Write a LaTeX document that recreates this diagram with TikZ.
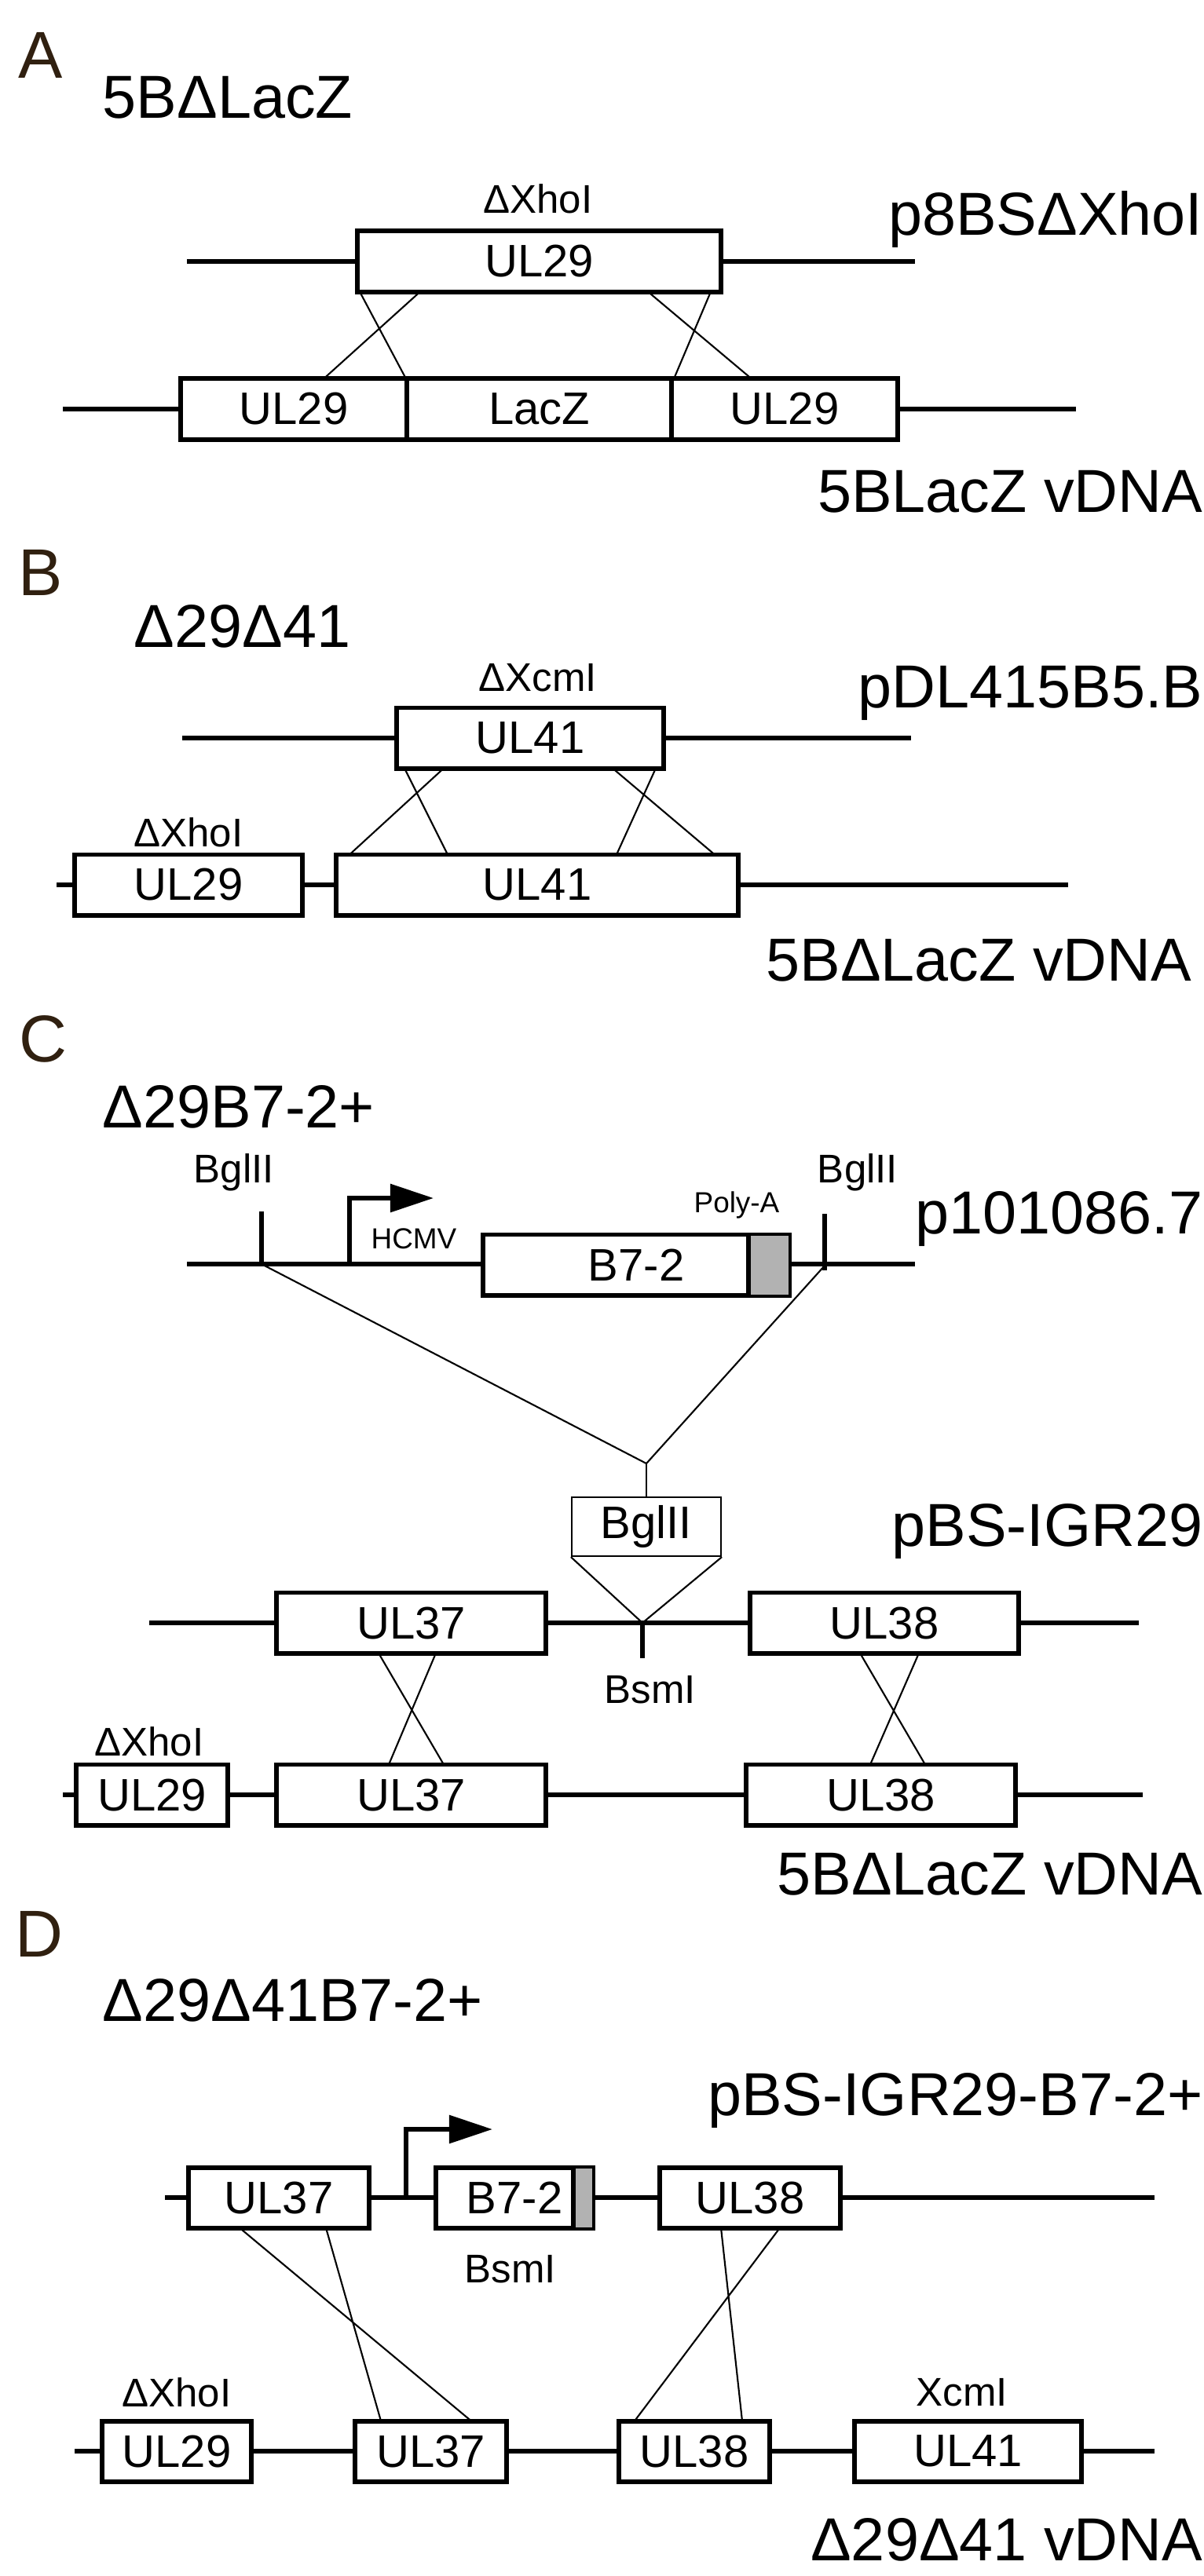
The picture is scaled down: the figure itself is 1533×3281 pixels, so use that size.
\documentclass[tikz,border=0pt]{standalone}
\usepackage{fontspec}
\setmainfont{Liberation Sans}
\usetikzlibrary{positioning,calc,arrows.meta}
\tikzset{%
	gene/.style  = {draw, rectangle, fill=white, line width=1.7pt, inner sep=0pt,
		minimum height=0.77cm, font=\fontsize{16.5}{18}\selectfont},
	dna/.style   = {line width=1.7pt},
	xover/.style = {line width=0.6pt},
	site/.style  = {inner sep=0pt, font=\fontsize{14.5}{16}\selectfont},
	small/.style = {inner sep=0pt, font=\fontsize{10.5}{12}\selectfont},
	title/.style = {inner sep=0pt, anchor=west, font=\fontsize{22}{24}\selectfont},
	tag/.style   = {inner sep=0pt, anchor=east, font=\fontsize{22}{24}\selectfont},
	panel/.style = {inner sep=0pt, font=\fontsize{24}{26}\selectfont, text=black!75!brown},
	promo/.style = {dna, -{Triangle[length=0.55cm, width=0.35cm]}}
}
\begin{document}
\begin{tikzpicture}[x=0.01cm, y=-0.01cm]
	\useasboundingbox (0,0) rectangle (1533,3281);
	% panel A
	\node[panel] (pa) at (52,70) {A};
	\node[title] (ta) at (130,124) {5BΔLacZ};
	\draw[dna] (238,333) -- (1165,333);
	\draw[dna] (80,521) -- (1370,521);
	\node[gene, minimum width=4.63cm] (a29) at (686.5,333) {UL29};
	\node[site] (axho) at (685,253) {ΔXhoI};
	\node[tag] (ap) at (1532,279) {p8BSΔXhoI};
	\node[gene, minimum width=2.88cm] (b29l) at (374,521) {UL29};
	\node[gene, minimum width=3.37cm] (blac) at (686.5,521) {LacZ};
	\node[gene, minimum width=2.88cm] (b29r) at (999,521) {UL29};
	\node[tag] (av) at (1532,626) {5BLacZ vDNA};
	\draw[xover] (458,371.5) -- (517,482.5) (535,371.5) -- (412,482.5);
	\draw[xover] (825,371.5) -- (957,482.5) (905,371.5) -- (858,482.5);
	% panel B
	\node[panel] (pb) at (52,729) {B};
	\node[title] (tb) at (170,798) {Δ29Δ41};
	\draw[dna] (232,940) -- (1160,940);
	\draw[dna] (72,1127) -- (1360,1127);
	\node[gene, minimum width=3.4cm] (b41) at (675,940) {UL41};
	\node[site] (bxcm) at (685,863) {ΔXcmI};
	\node[tag] (bp) at (1532,883) {pDL415B5.B};
	\node[gene, minimum width=2.9cm] (c29) at (240,1127) {UL29};
	\node[site] (bxho) at (240,1060) {ΔXhoI};
	\node[gene, minimum width=5.12cm] (c41) at (684,1127) {UL41};
	\node[tag] (bv) at (1518,1223) {5BΔLacZ vDNA};
	\draw[xover] (515,978.5) -- (570,1088.5) (565,978.5) -- (445,1088.5);
	\draw[xover] (780,978.5) -- (910,1088.5) (835,978.5) -- (785,1088.5);
	% panel C
	\node[panel] (pc) at (55,1323) {C};
	\node[title] (tc) at (130,1410) {Δ29B7-2+};
	\node[site] (bgl1) at (298,1493) {BglII};
	\node[site] (bgl2) at (1092,1493) {BglII};
	\draw[dna] (238,1610) -- (1165,1610);
	\draw[dna] (333,1610) -- (333,1543) (1050,1618) -- (1050,1546);
	\draw[promo] (445,1610) -- (445,1526) -- (552,1526);
	\node[small] (hcmv) at (527,1578) {HCMV};
	\node[gene, minimum width=3.9cm] (b72) at (810,1611) {B7-2};
	\fill[gray!60] (953,1573.5) rectangle (1004,1648.5);
	\draw[line width=1.7pt] (953,1573) -- (953,1649);
	\node[small] (polya) at (938,1535) {Poly-A};
	\node[tag] (cp1) at (1532,1552) {p101086.7};
	\coordinate (ins) at (823,1864);
	\draw[xover] (333,1610) -- (ins) -- (1050,1612);
	\draw[xover] (ins) -- (823,1907);
	\draw[dna] (190,2067) -- (1450,2067);
	\draw[dna] (818,2067) -- (818,2112);
	\node[draw, xover, rectangle, minimum width=1.9cm, minimum height=0.75cm, inner sep=0pt,
		fill=white, font=\fontsize{16.5}{18}\selectfont] (bgl) at (823,1944.5) {BglII};
	\draw[xover] (bgl.south west) -- (818,2067) -- (bgl.south east);
	\node[site] (bsm1) at (828,2152) {BsmI};
	\node[tag] (cp2) at (1532,1950) {pBS-IGR29};
	\node[gene, minimum width=3.43cm] (c37) at (523.5,2067) {UL37};
	\node[gene, minimum width=3.42cm] (c38) at (1126,2067) {UL38};
	\draw[dna] (80,2286) -- (1455,2286);
	\node[gene, minimum width=1.93cm] (d29) at (193.5,2286) {UL29};
	\node[site] (cxho) at (190,2218) {ΔXhoI};
	\node[gene, minimum width=3.43cm] (d37) at (523.5,2286) {UL37};
	\node[gene, minimum width=3.43cm] (d38) at (1121.5,2286) {UL38};
	\node[tag] (cv) at (1532,2387) {5BΔLacZ vDNA};
	\draw[xover] (482,2105.5) -- (565,2247.5) (555,2105.5) -- (495,2247.5);
	\draw[xover] (1095,2105.5) -- (1178,2247.5) (1170,2105.5) -- (1108,2247.5);
	% panel D
	\node[panel] (pd) at (50,2463) {D};
	\node[title] (td) at (130,2548) {Δ29Δ41B7-2+};
	\node[tag] (dp) at (1532,2675) {pBS-IGR29-B7-2+};
	\draw[dna] (210,2799) -- (1470,2799);
	\node[gene, minimum width=2.3cm] (e37) at (355,2799) {UL37};
	\draw[promo] (517,2799) -- (517,2712) -- (627,2712);
	\node[gene, minimum width=2cm] (e72) at (655,2799) {B7-2};
	\fill[gray!60] (730,2761.5) rectangle (754,2836.5);
	\draw[line width=1.7pt] (730,2761) -- (730,2837);
	\node[site] (bsm2) at (650,2890) {BsmI};
	\node[gene, minimum width=2.3cm] (e38) at (955,2799) {UL38};
	\draw[dna] (95,3122) -- (1470,3122);
	\node[gene, minimum width=1.9cm] (f29) at (225,3122) {UL29};
	\node[site] (dxho) at (225,3047) {ΔXhoI};
	\node[gene, minimum width=1.93cm] (f37) at (548.5,3122) {UL37};
	\node[gene, minimum width=1.92cm] (f38) at (884,3122) {UL38};
	\node[gene, minimum width=2.89cm] (f41) at (1232.5,3122) {UL41};
	\node[site] (dxcm) at (1225,3047) {XcmI};
	\node[tag] (dv) at (1532,3235) {Δ29Δ41 vDNA};
	\draw[xover] (305,2837.5) -- (600,3083.5) (415,2837.5) -- (485,3083.5);
	\draw[xover] (918,2837.5) -- (945,3083.5) (993,2837.5) -- (808,3083.5);
\end{tikzpicture}
\end{document}
